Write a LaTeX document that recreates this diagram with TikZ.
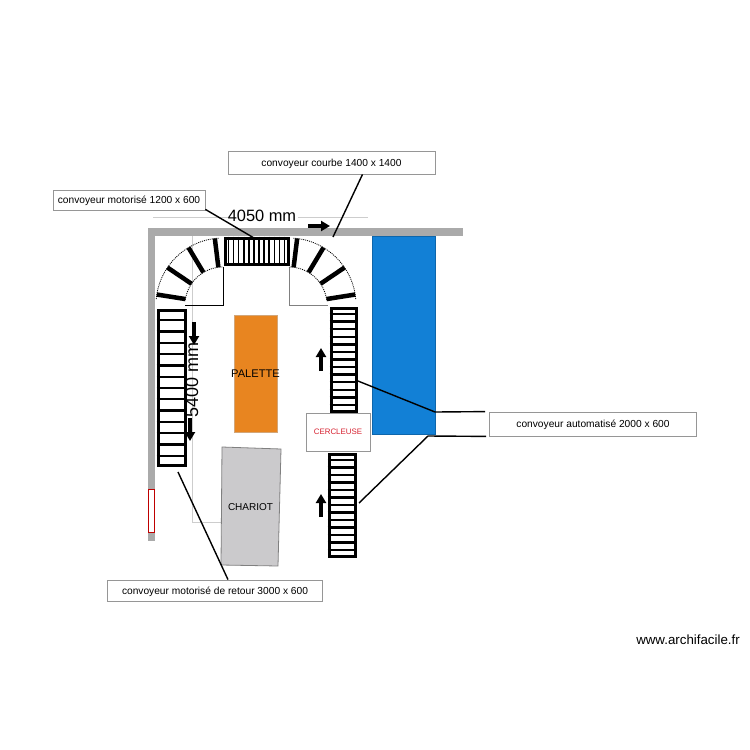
\documentclass[tikz,border=0pt]{standalone}
\usepackage{xcolor}
\usepackage{fontspec}
\setmainfont{Liberation Sans}
\usetikzlibrary{calc,arrows.meta}

\definecolor{wallgray}{RGB}{170,170,170}
\definecolor{boxgray}{RGB}{150,150,150}
\definecolor{thingray}{RGB}{205,205,205}
\definecolor{beltblue}{RGB}{18,128,214}
\definecolor{palorange}{RGB}{232,133,32}
\definecolor{chargray}{RGB}{203,202,204}
\definecolor{cercred}{RGB}{215,35,50}

\tikzset{
  belt/.style={shape=rectangle,draw,line width=3pt,fill=white,inner sep=0pt},
  rung/.style={line width=2.4pt},
  wedge/.style={line width=4.5pt},
  label/.style={shape=rectangle,draw=boxgray,line width=0.8pt,fill=white,inner sep=0pt,text depth=0pt,font=\fontsize{10.2}{12}\selectfont},
  leader/.style={line width=1.4pt},
  wall/.style={fill=wallgray,draw=none},
  flow/.style={-{Triangle[length=9pt,width=10pt]},line width=3.6pt},
  dim/.style={draw=thingray,line width=0.6pt},
  dimtext/.style={inner sep=0pt}
}

\begin{document}
\begin{tikzpicture}[x=1pt,y=-1pt]
\useasboundingbox (0,0) rectangle (750,750);

% thin lines
\draw[dim] (153,217) -- (228,217);
\draw[dim] (298,217) -- (368,217);
\draw[dim] (192,236) -- (192,522) -- (250,522);

% walls
\fill[wall] (148,228) rectangle (463,236);
\fill[wall] (148,228) rectangle (155,541);
\draw[draw=red!75!black,fill=white,line width=0.7pt] (148.5,489) rectangle (154,532);

% blue belt, palette, chariot
\node (B) [shape=rectangle,draw=beltblue!80!black,fill=beltblue,minimum width=63pt,minimum height=198pt,inner sep=0pt] at (403.5,335) {};
\node (P) [shape=rectangle,draw=brown!70,fill=palorange,minimum width=43pt,minimum height=117pt,inner sep=0pt,font=\fontsize{11.1}{13}\selectfont] at (255.5,373.5) {\makebox[0pt]{PALETTE}};
\draw[draw=gray,fill=chargray,line width=0.8pt] (222,447) -- (281,449) -- (278,566) -- (221,565) -- cycle;
\node (H) [inner sep=0pt,font=\fontsize{10}{12}\selectfont] at (250.5,507) {CHARIOT};
\node (Z) [shape=rectangle,draw=boxgray,line width=0.8pt,fill=white,minimum width=64pt,minimum height=38pt,inner sep=0pt,text=cercred,font=\fontsize{7.9}{10}\selectfont] at (338,432) {CERCLEUSE};

% straight belts
\node (L) [belt,minimum width=27pt,minimum height=155pt] at (171.5,388) {};
\node (R) [belt,minimum width=25pt,minimum height=103pt] at (343.5,359.5) {};
\node (S) [belt,minimum width=26pt,minimum height=102pt] at (342,505) {};
\node (T) [belt,minimum width=63pt,minimum height=26pt] at (256.5,251) {};
\foreach \i in {1,...,13} {
  \draw[rung] ($(L.north west)!\i/14!(L.south west)$) -- ($(L.north east)!\i/14!(L.south east)$);
  \draw[rung] ($(R.north west)!\i/14!(R.south west)$) -- ($(R.north east)!\i/14!(R.south east)$);
  \draw[rung] ($(S.north west)!\i/14!(S.south west)$) -- ($(S.north east)!\i/14!(S.south east)$);
}
\foreach \i in {1,...,12}
  \draw[line width=1.4pt] ($(T.north west)!\i/13!(T.north east)$) -- ($(T.south west)!\i/13!(T.south east)$);

% curved belts
\coordinate (CL) at (223,305);
\coordinate (CR) at (289,305);
\draw[line width=0.7pt] (223,267) -- (CL) -- (185,305);
\draw[line width=0.6pt,draw=gray] (289,267) -- (CR) -- (328,305);
\draw[dash pattern=on 1pt off 1pt,line width=0.8pt] ($(CL)+(175:67pt)$) arc[start angle=175,end angle=93,radius=67pt];
\draw[dash pattern=on 1pt off 1pt,line width=0.8pt] ($(CL)+(172:38pt)$) arc[start angle=172,end angle=90,radius=38pt];
\draw[dash pattern=on 1pt off 1pt,line width=0.8pt] ($(CR)+(5:67pt)$) arc[start angle=5,end angle=87,radius=67pt];
\draw[dash pattern=on 1pt off 1pt,line width=0.8pt] ($(CR)+(8:38pt)$) arc[start angle=8,end angle=90,radius=38pt];
\foreach \a in {97,121,146,171}
  \draw[wedge] ($(CL)+(\a:38pt)$) -- ($(CL)+(\a:67pt)$);
\foreach \a in {83,59,34,9}
  \draw[wedge] ($(CR)+(\a:38pt)$) -- ($(CR)+(\a:67pt)$);

% arrows
\draw[flow] (308,226) -- (330,226);
\draw[flow] (194,322) -- (194,345);
\draw[flow] (190,418) -- (190,441);
\draw[flow] (321,371) -- (321,348);
\draw[flow] (321,517) -- (321,494);

% dimensions
\node (V) [dimtext,rotate=90,font=\fontsize{18}{20}\selectfont] at (192,380) {5400 mm};
\node (W) [dimtext,font=\fontsize{16.4}{18}\selectfont] at (262,216) {4050 mm};

% labels
\node (A) [label,minimum width=152pt,minimum height=20pt] at (129,200) {convoyeur motorisé 1200 x 600};
\node (C) [label,minimum width=207pt,minimum height=23pt] at (331.5,162.5) {convoyeur courbe 1400 x 1400};
\node (D) [label,minimum width=207pt,minimum height=24pt] at (593,424) {convoyeur automatisé 2000 x 600};
\node (E) [label,minimum width=215pt,minimum height=21pt] at (215,590.5) {convoyeur motorisé de retour 3000 x 600};

% leaders
\coordinate (a1) at (254,238);
\coordinate (c1) at (333,237);
\coordinate (d1) at (358,381);
\coordinate (d2) at (359,503);
\coordinate (e1) at (178,472);
\draw[leader] (A.south east) ++(0,-1) -- (a1);
\draw[leader] (C.south) ++(31,0) -- (c1);
\draw[leader] (D.north west) ++(-4,0) -- (435,412) -- (d1);
\draw[leader] (D.south west) ++(-3,0) -- (428,436) -- (d2);
\draw[leader] (E.north) ++(13,0) -- (e1);

\node (M) [inner sep=0pt,font=\fontsize{13.3}{15}\selectfont] at (688,640) {www.archifacile.fr};
\end{tikzpicture}
\end{document}
